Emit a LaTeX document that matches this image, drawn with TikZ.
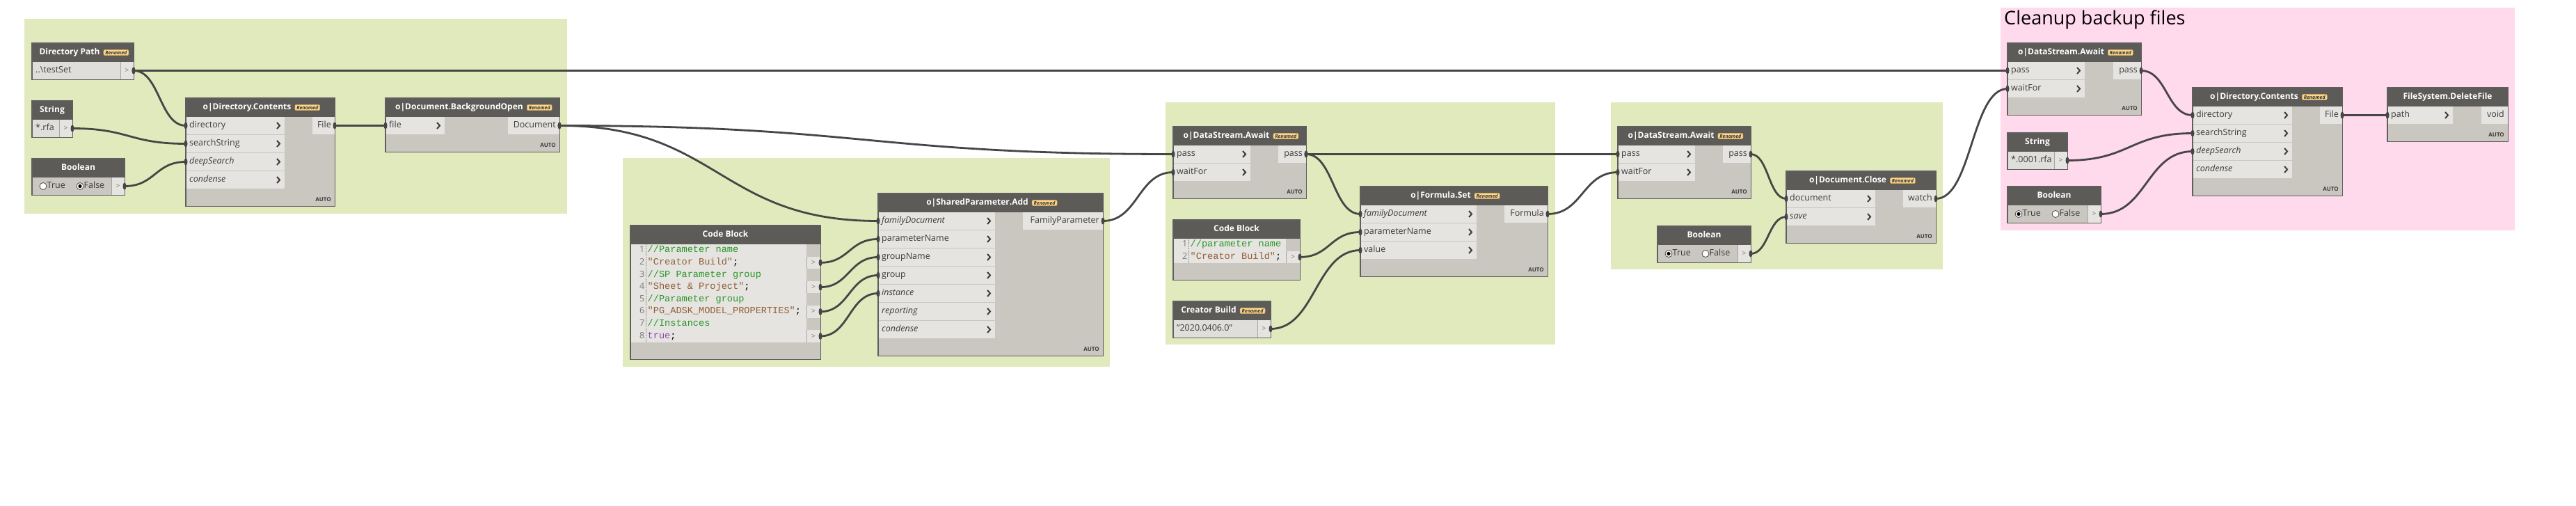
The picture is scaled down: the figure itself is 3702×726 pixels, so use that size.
\documentclass[tikz,border=0pt]{standalone}
\usepackage{fontspec}
\setmainfont{Open Sans}
\newfontfamily\codefont{Liberation Mono}
\usetikzlibrary{calc}
\definecolor{grpgreen}{RGB}{225,234,189}
\definecolor{grppink}{RGB}{255,217,236}
\definecolor{hdr}{RGB}{92,91,88}
\definecolor{bodyc}{RGB}{202,198,192}
\definecolor{rowc}{RGB}{230,228,224}
\definecolor{fieldc}{RGB}{224,222,218}
\definecolor{brd}{RGB}{95,95,95}
\definecolor{wirec}{RGB}{70,70,70}
\definecolor{badgec}{RGB}{252,214,140}
\definecolor{badgeb}{RGB}{205,160,80}
\definecolor{lbl}{RGB}{60,60,60}
\definecolor{cmt}{RGB}{40,150,40}
\definecolor{strc}{RGB}{145,95,55}
\definecolor{kwc}{RGB}{140,70,170}
\definecolor{lnum}{RGB}{120,120,120}
\tikzset{
  headtext/.style={text=white,font=\fontsize{12}{14}\selectfont\bfseries,inner sep=0pt,text height=9pt,text depth=2.5pt},
  rowtext/.style={text=lbl,font=\fontsize{12.5}{14}\selectfont,inner sep=0pt,text height=9pt,text depth=2.5pt},
  porttext/.style={text=black!55,font=\fontsize{10}{12}\selectfont,inner sep=0pt},
  badge/.style={fill=badgec,draw=badgeb,line width=0.5pt,rounded corners=2pt,font=\fontsize{7}{8}\selectfont\bfseries\itshape,text=black!80,inner xsep=2.5pt,inner ysep=1.5pt},
  autotext/.style={text=lbl,font=\fontsize{8}{9}\selectfont\bfseries,inner sep=0pt},
  chev/.style={draw=lbl,line width=2pt},
  wire/.style={draw=wirec,line width=2.8pt},
  brdline/.style={draw=brd,line width=1.2pt},
  codetext/.style={font=\codefont\fontsize{13.6}{17.6}\selectfont,inner sep=0pt,text height=9pt,text depth=3pt},
  lnumtext/.style={font=\fontsize{12.5}{14}\selectfont,text=lnum,inner sep=0pt,text height=9pt,text depth=3pt},
  gutter/.style={draw=black!45,line width=0.6pt,densely dotted},
  grouptitle/.style={font=\fontsize{27}{31}\selectfont,text=black,inner sep=0pt},
  radio/.style={fill=white,draw=black!70,line width=0.8pt},
  boxnode/.style={inner sep=0pt,anchor=north west}
}
% generic function node
\newcommand{\DynNode}[9]{%
  \xdef\DNname{#1}\xdef\DNx{#2}\xdef\DNy{#3}\xdef\DNw{#4}\xdef\DNwin{#6}\xdef\DNwout{#7}%
  \pgfmathsetmacro\DNh{51+26*#5}%
  \fill[bodyc] (#2,#3) rectangle ++(#4,\DNh);
  \fill[hdr] (#2,#3) rectangle ++(#4,27);
  \node[boxnode,minimum width=#4pt,minimum height=\DNh pt] (#1) at (#2,#3) {};
  \ifnum#9=1
    \node[headtext] (#1-t) at (#2+#4/2-19,#3+13.5) {#8};
    \node[badge,anchor=west] (#1-b) at ([xshift=5pt]#1-t.east) {Renamed};
  \else
    \node[headtext] (#1-t) at (#2+#4/2,#3+13.5) {#8};
  \fi
  \node[autotext,anchor=south east] (#1-a) at (#2+#4-5,#3+\DNh-6) {AUTO};
}
\newcommand{\DIn}[3]{%
  \fill[rowc] (\DNx,\DNy+26*#1+1) rectangle ++(\DNwin,25);
  \node[rowtext,anchor=west] (\DNname-l#1) at (\DNx+5,\DNy+26*#1+13.5) {#3#2};
  \draw[chev] (\DNx+\DNwin-11,\DNy+26*#1+9) -- ++(4,4.5) -- ++(-4,4.5);
  \coordinate (\DNname-i#1) at (\DNx,\DNy+26*#1+13.5);
}
\newcommand{\DOut}[1]{%
  \fill[rowc] (\DNx+\DNw-\DNwout,\DNy+27) rectangle ++(\DNwout,25);
  \node[rowtext,anchor=east] (\DNname-ol) at (\DNx+\DNw-5,\DNy+39.5) {#1};
  \coordinate (\DNname-o) at (\DNx+\DNw,\DNy+39.5);
}
\newcommand{\DynEnd}{\draw[brdline] (\DNname.north west) rectangle (\DNname.south east);}
% input nodes
\newcommand{\DynInput}[6]{%
  \xdef\DNname{#1}\xdef\DNx{#2}\xdef\DNy{#3}\xdef\DNw{#4}%
  \fill[bodyc] (#2,#3) rectangle ++(#4,52);
  \fill[hdr] (#2,#3) rectangle ++(#4,27);
  \node[boxnode,minimum width=#4pt,minimum height=52pt] (#1) at (#2,#3) {};
  \ifnum#6=1
    \node[headtext] (#1-t) at (#2+#4/2-19,#3+13.5) {#5};
    \node[badge,anchor=west] (#1-b) at ([xshift=5pt]#1-t.east) {Renamed};
  \else
    \node[headtext] (#1-t) at (#2+#4/2,#3+13.5) {#5};
  \fi
  \fill[rowc] (#2+#4-19,#3+27) rectangle ++(19,25);
  \draw[draw=black!35,line width=0.6pt] (#2+#4-19,#3+27) -- ++(0,25);
  \node[porttext] (#1-p) at (#2+#4-9.5,#3+39.5) {>};
  \coordinate (#1-o) at (#2+#4,#3+39.5);
}
\newcommand{\DField}[1]{%
  \fill[fieldc] (\DNx,\DNy+27) rectangle ++(\DNw-19,25);
  \node[rowtext,anchor=west] (\DNname-f) at (\DNx+5,\DNy+39.5) {#1};
}
\newcommand{\DBool}[1]{%
  \filldraw[radio] (\DNx+16,\DNy+39.5) circle (5);
  \node[rowtext,anchor=west] (\DNname-tr) at (\DNx+21.5,\DNy+39.5) {True};
  \filldraw[radio] (\DNx+69,\DNy+39.5) circle (5);
  \node[rowtext,anchor=west] (\DNname-fa) at (\DNx+74.5,\DNy+39.5) {False};
  \ifnum#1=1 \fill[black] (\DNx+16,\DNy+39.5) circle (2.6);
  \else \fill[black] (\DNx+69,\DNy+39.5) circle (2.6); \fi
}
% code blocks
\newcommand{\DynCode}[5]{%
  \xdef\DNname{#1}\xdef\DNx{#2}\xdef\DNy{#3}\xdef\DNw{#4}%
  \pgfmathsetmacro\DNh{51+17.6*#5}%
  \fill[bodyc] (#2,#3) rectangle ++(#4,\DNh);
  \fill[hdr] (#2,#3) rectangle ++(#4,27);
  \fill[rowc] (#2,#3+27) rectangle ++(#4-20,17.6*#5);
  \draw[gutter] (#2+22,#3+27) -- ++(0,17.6*#5);
  \node[boxnode,minimum width=#4pt,minimum height=\DNh pt] (#1) at (#2,#3) {};
  \node[headtext] (#1-t) at (#2+#4/2,#3+13.5) {Code Block};
}
\newcommand{\CLine}[2]{%
  \node[lnumtext,anchor=east] (\DNname-n#1) at (\DNx+20.5,\DNy+27+17.6*#1-8.8) {#1};
  \node[codetext,anchor=west] (\DNname-c#1) at (\DNx+24.5,\DNy+27+17.6*#1-8.8) {#2};
}
\newcommand{\CPort}[1]{%
  \fill[rowc] (\DNx+\DNw-20,\DNy+27+17.6*#1-17.6) rectangle ++(20,17.6);
  \draw[draw=black!35,line width=0.6pt] (\DNx+\DNw-20,\DNy+27+17.6*#1-17.6) -- ++(0,17.6);
  \node[porttext] (\DNname-p#1) at (\DNx+\DNw-10,\DNy+27+17.6*#1-8.8) {>};
  \coordinate (\DNname-o#1) at (\DNx+\DNw,\DNy+27+17.6*#1-8.8);
}
\newcommand{\wire}[2]{%
  \pgfpointdiff{\pgfpointanchor{#1}{center}}{\pgfpointanchor{#2}{center}}%
  \pgfgetlastxy\wdx\wdy
  \pgfmathsetmacro\wd{max(0.5*abs(\wdx),20)}%
  \draw[wire] (#1) .. controls ([xshift=\wd pt]#1) and ([xshift=-\wd pt]#2) .. (#2);
  \fill[wirec] (#1) ellipse (2.5 and 5);
  \fill[wirec] (#2) ellipse (2.5 and 5);
}
\begin{document}
\begin{tikzpicture}[x=1pt,y=-1pt]
\useasboundingbox (0,0) rectangle (3702,726);
\fill[white] (0,0) rectangle (3702,726);
% groups
\fill[grpgreen] (35,27) rectangle (815,307);
\fill[grpgreen] (895,227) rectangle (1595,527);
\fill[grpgreen] (1675,147) rectangle (2235,495);
\fill[grpgreen] (2315,147) rectangle (2792,387);
\fill[grppink] (2875,11) rectangle (3614,331);
\node[grouptitle,anchor=west] (gtitle) at (2880,28) {Cleanup backup files};

% ---- group 1
\DynInput{dp}{46}{62}{146}{Directory Path}{1}
\DField{..\textbackslash testSet}
\DynEnd
\DynInput{s1}{46}{145}{58}{String}{0}
\DField{*.rfa}
\DynEnd
\DynInput{b1}{46}{228}{133}{Boolean}{0}
\DBool{0}
\DynEnd
\DynNode{dc1}{267}{141}{214}{4}{142}{32}{o|Directory.Contents}{1}
\DIn{1}{directory}{}
\DIn{2}{searchString}{}
\DIn{3}{deepSearch}{\itshape}
\DIn{4}{condense}{\itshape}
\DOut{File}
\DynEnd
\DynNode{bo}{554}{141}{250}{1}{85}{74}{o|Document.BackgroundOpen}{1}
\DIn{1}{file}{}
\DOut{Document}
\DynEnd

% ---- group 2
\DynCode{cb1}{906}{324}{273}{8}
\CLine{1}{\textcolor{cmt}{//Parameter name}}
\CLine{2}{\textcolor{strc}{"Creator Build"};}
\CLine{3}{\textcolor{cmt}{//SP Parameter group}}
\CLine{4}{\textcolor{strc}{"Sheet \& Project"};}
\CLine{5}{\textcolor{cmt}{//Parameter group}}
\CLine{6}{\textcolor{strc}{"PG\_ADSK\_MODEL\_PROPERTIES"};}
\CLine{7}{\textcolor{cmt}{//Instances}}
\CLine{8}{\textcolor{kwc}{true};}
\CPort{2}\CPort{4}\CPort{6}\CPort{8}
\DynEnd
\DynNode{spa}{1262}{278}{323}{7}{168}{115}{o|SharedParameter.Add}{1}
\DIn{1}{familyDocument}{\itshape}
\DIn{2}{parameterName}{}
\DIn{3}{groupName}{}
\DIn{4}{group}{}
\DIn{5}{instance}{\itshape}
\DIn{6}{reporting}{\itshape}
\DIn{7}{condense}{\itshape}
\DOut{FamilyParameter}
\DynEnd

% ---- group 3
\DynNode{aw1}{1686}{182}{191}{2}{111}{40}{o|DataStream.Await}{1}
\DIn{1}{pass}{}
\DIn{2}{waitFor}{}
\DOut{pass}
\DynEnd
\DynCode{cb2}{1686}{316}{182}{2}
\CLine{1}{\textcolor{cmt}{//parameter name}}
\CLine{2}{\textcolor{strc}{"Creator Build"};}
\CPort{2}
\DynEnd
\DynInput{cr}{1686}{433}{140}{Creator Build}{1}
\DField{"2020.0406.0"}
\DynEnd
\DynNode{fs}{1955}{268}{269}{3}{167}{62}{o|Formula.Set}{1}
\DIn{1}{familyDocument}{\itshape}
\DIn{2}{parameterName}{}
\DIn{3}{value}{}
\DOut{Formula}
\DynEnd

% ---- group 4
\DynNode{aw2}{2325}{182}{191}{2}{111}{40}{o|DataStream.Await}{1}
\DIn{1}{pass}{}
\DIn{2}{waitFor}{}
\DOut{pass}
\DynEnd
\DynInput{b2}{2382}{325}{134}{Boolean}{0}
\DBool{1}
\DynEnd
\DynNode{dcl}{2567}{246}{215}{2}{128}{47}{o|Document.Close}{1}
\DIn{1}{document}{}
\DIn{2}{save}{\itshape}
\DOut{watch}
\DynEnd

% ---- group 5
\DynNode{aw3}{2885}{62}{192}{2}{111}{40}{o|DataStream.Await}{1}
\DIn{1}{pass}{}
\DIn{2}{waitFor}{}
\DOut{pass}
\DynEnd
\DynInput{s2}{2885}{191}{86}{String}{0}
\DField{*.0001.rfa}
\DynEnd
\DynInput{b3}{2885}{268}{134}{Boolean}{0}
\DBool{1}
\DynEnd
\DynNode{dc2}{3151}{126}{215}{4}{143}{32}{o|Directory.Contents}{1}
\DIn{1}{directory}{}
\DIn{2}{searchString}{}
\DIn{3}{deepSearch}{\itshape}
\DIn{4}{condense}{\itshape}
\DOut{File}
\DynEnd
\DynNode{del}{3431}{126}{173}{1}{94}{38}{FileSystem.DeleteFile}{0}
\DIn{1}{path}{}
\DOut{void}
\DynEnd

% ---- wires
\wire{dp-o}{dc1-i1}
\wire{s1-o}{dc1-i2}
\wire{b1-o}{dc1-i3}
\wire{dc1-o}{bo-i1}
\wire{bo-o}{spa-i1}
\wire{bo-o}{aw1-i1}
\wire{cb1-o2}{spa-i2}
\wire{cb1-o4}{spa-i3}
\wire{cb1-o6}{spa-i4}
\wire{cb1-o8}{spa-i5}
\wire{spa-o}{aw1-i2}
\wire{aw1-o}{fs-i1}
\wire{aw1-o}{aw2-i1}
\wire{cb2-o2}{fs-i2}
\wire{cr-o}{fs-i3}
\wire{fs-o}{aw2-i2}
\wire{aw2-o}{dcl-i1}
\wire{b2-o}{dcl-i2}
\wire{dcl-o}{aw3-i2}
\wire{dp-o}{aw3-i1}
\wire{aw3-o}{dc2-i1}
\wire{s2-o}{dc2-i2}
\wire{b3-o}{dc2-i3}
\wire{dc2-o}{del-i1}
\end{tikzpicture}
\end{document}
